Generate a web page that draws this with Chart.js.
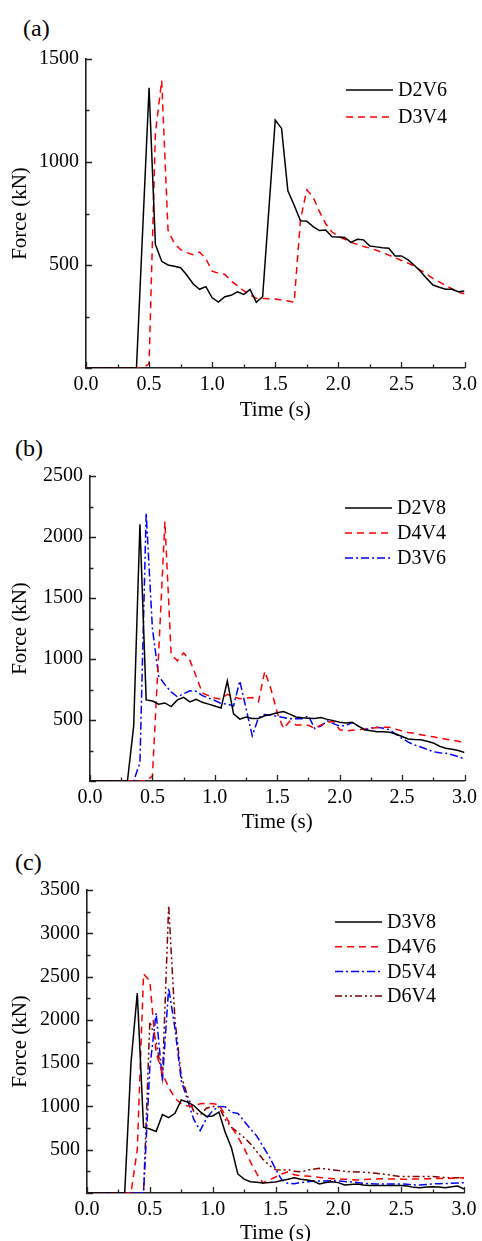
<!DOCTYPE html>
<html>
<head>
<meta charset="utf-8">
<script src="https://cdn.jsdelivr.net/npm/chart.js@4.4.1/dist/chart.umd.min.js"></script>
<style>
    html, body { margin: 0; padding: 0; background: #fff; overflow: hidden; }
    body { width: 482px; height: 1241px; position: relative; }
    canvas { position: absolute; left: 0; }
    .tag {
        position: absolute;
        font-family: 'Liberation Serif', 'Times New Roman', serif;
        font-size: 24px;
        line-height: 24px;
        color: #000;
    }
</style>
</head>
<body>
<div class="tag" style="left:23px; top:16px">(a)</div>
<div class="tag" style="left:15px; top:436px">(b)</div>
<div class="tag" style="left:15px; top:850px">(c)</div>
<canvas id="chartA" width="482" height="423" style="top:0px"></canvas>
<canvas id="chartB" width="482" height="412" style="top:423px"></canvas>
<canvas id="chartC" width="482" height="411" style="top:835px"></canvas>
<script>
// sampling times (s), shared by every series
const time = [
    0.00, 0.05, 0.10, 0.15, 0.20, 0.25, 0.30, 0.35, 0.40, 0.45,
    0.50, 0.55, 0.60, 0.65, 0.70, 0.75, 0.80, 0.85, 0.90, 0.95,
    1.00, 1.05, 1.10, 1.15, 1.20, 1.25, 1.30, 1.35, 1.40, 1.45,
    1.50, 1.55, 1.60, 1.65, 1.70, 1.75, 1.80, 1.85, 1.90, 1.95,
    2.00, 2.05, 2.10, 2.15, 2.20, 2.25, 2.30, 2.35, 2.40, 2.45,
    2.50, 2.55, 2.60, 2.65, 2.70, 2.75, 2.80, 2.85, 2.90, 2.95,
    3.00
];
const xTickLabels = ['0.0', '0.5', '1.0', '1.5', '2.0', '2.5', '3.0'];

// (a)
const forceD2V6 = [
    0, 0, 0, 0, 0, 0, 0, 0, 0, 680,
    1360, 600, 518, 500, 494, 487, 450, 408, 382, 395,
    341, 320, 346, 353, 370, 357, 382, 319, 346, 775,
    1204, 1163, 860, 790, 715, 713, 686, 667, 670, 637,
    636, 634, 610, 625, 622, 592, 588, 584, 581, 544,
    544, 526, 500, 470, 435, 403, 392, 382, 382, 370,
    374
];
const forceD3V4 = [
    0, 0, 0, 0, 0, 0, 0, 0, 0, 0,
    20, 1140, 1395, 670, 605, 575, 560, 550, 563, 530,
    470, 460, 455, 422, 400, 375, 355, 338, 337, 336,
    335, 330, 325, 320, 720, 865, 830, 760, 700, 660,
    640, 625, 610, 600, 590, 582, 572, 560, 548, 535,
    522, 510, 495, 475, 455, 435, 418, 400, 385, 368,
    360
];

// (b)
const forceD2V8 = [
    0, 0, 0, 0, 0, 0, 0, 452, 2105, 665,
    655, 630, 640, 610, 665, 686, 648, 670, 645, 630,
    615, 598, 820, 550, 507, 525, 512, 512, 535, 545,
    560, 570, 548, 525, 518, 515, 512, 520, 505, 495,
    482, 475, 482, 450, 420, 412, 403, 403, 400, 385,
    365, 345, 340, 338, 325, 312, 285, 268, 260, 250,
    234
];
const forceD4V4 = [
    0, 0, 0, 0, 0, 0, 0, 0, 0, 0,
    40, 1050, 2127, 1040, 985, 1050, 990, 860, 720, 700,
    680, 670, 711, 690, 675, 680, 684, 650, 900, 752,
    560, 430, 490, 460, 460, 457, 430, 460, 480, 490,
    420, 411, 415, 420, 425, 432, 439, 440, 440, 425,
    410, 398, 390, 380, 370, 362, 352, 343, 335, 325,
    316
];
const forceD3V6 = [
    0, 0, 0, 0, 0, 0, 0, 0, 150, 2195,
    1250, 860, 790, 730, 690, 715, 740, 735, 700, 680,
    660, 635, 630, 615, 820, 595, 370, 520, 545, 540,
    530, 520, 510, 510, 510, 534, 430, 450, 493, 470,
    450, 455, 479, 450, 420, 435, 440, 432, 420, 384,
    350, 318, 295, 278, 260, 240, 232, 228, 215, 200,
    180
];

// (c)
const forceD3V8 = [
    0, 0, 0, 0, 0, 0, 0, 1500, 2310, 760,
    740, 710, 905, 870, 920, 1075, 1050, 1010, 940, 885,
    890, 935, 700, 520, 220, 160, 131, 125, 115, 120,
    128, 145, 160, 177, 160, 150, 139, 104, 120, 130,
    120, 92, 98, 104, 92, 88, 88, 88, 88, 88,
    88, 80, 65, 62, 70, 73, 68, 62, 72, 81,
    46
];
const forceD4V6 = [
    0, 0, 0, 0, 0, 0, 0, 0, 500, 2530,
    2450, 1620, 1380, 1220, 1095, 1030, 1005, 1005, 1030, 1036,
    1030, 1020, 900, 760, 650, 520, 360, 227, 115, 150,
    185, 220, 246, 210, 200, 195, 188, 180, 172, 165,
    162, 160, 155, 150, 155, 160, 163, 165, 163, 162,
    160, 160, 162, 163, 165, 165, 168, 168, 170, 172,
    175
];
const forceD5V4 = [
    0, 0, 0, 0, 0, 0, 0, 0, 0, 0,
    1450, 2080, 1300, 2370, 1900, 1300, 1070, 850, 720, 860,
    950, 1000, 995, 930, 920, 830, 740, 660, 540, 420,
    280, 150, 110, 108, 120, 130, 135, 139, 140, 142,
    138, 133, 128, 120, 112, 108, 105, 104, 104, 104,
    104, 100, 94, 92, 98, 104, 108, 110, 112, 115,
    119
];
const forceD6V4 = [
    0, 0, 0, 0, 0, 0, 0, 0, 0, 0,
    1980, 1750, 1330, 3320, 2000, 1350, 1120, 940, 900, 980,
    1000, 995, 850, 760, 700, 640, 570, 480, 390, 320,
    270, 265, 270, 250, 245, 262, 275, 285, 278, 268,
    260, 250, 246, 243, 240, 235, 228, 220, 210, 198,
    190, 190, 190, 190, 190, 190, 185, 180, 175, 175,
    175
];

const FONT = "'Liberation Serif', 'Times New Roman', serif";

const STYLES = {
    solid: { color: '#000000', dash: [] },
    dash: { color: '#ff0000', dash: [7, 5] },
    dashDot: { color: '#0000ff', dash: [8, 3, 2, 3] },
    dashDotDot: { color: '#800000', dash: [7, 3, 2, 3, 2, 3] }
};

// inward major / minor tick marks, like the original plotting software
const innerTicks = {
    id: 'innerTicks',
    afterDraw(chart, args, opts) {
        const { ctx, chartArea: area, scales: { x, y } } = chart;
        ctx.save();
        ctx.strokeStyle = '#222';
        ctx.lineWidth = 1.3;
        ctx.beginPath();
        for (let v = x.min; v <= x.max + 1e-9; v += opts.xStep / 2) {
            const px = Math.round(x.getPixelForValue(v)) + 0.5;
            const major = Math.abs(v / opts.xStep - Math.round(v / opts.xStep)) < 1e-6;
            ctx.moveTo(px, area.bottom);
            ctx.lineTo(px, area.bottom - (major ? 6 : 3.5));
        }
        for (let v = y.min; v <= y.max + 1e-9; v += opts.yStep / 2) {
            const py = Math.round(y.getPixelForValue(v)) + 0.5;
            const major = Math.abs(v / opts.yStep - Math.round(v / opts.yStep)) < 1e-6;
            ctx.moveTo(area.left, py);
            ctx.lineTo(area.left + (major ? 6 : 3.5), py);
        }
        ctx.stroke();
        ctx.restore();
    }
};

// legend drawn as a plain column in the upper right of the plot
const sideLegend = {
    id: 'sideLegend',
    afterDraw(chart, args, opts) {
        const ctx = chart.ctx;
        chart.data.datasets.forEach((ds, i) => {
            const ly = opts.y + i * opts.gap;
            ctx.save();
            ctx.strokeStyle = ds.borderColor;
            ctx.lineWidth = ds.borderWidth;
            ctx.setLineDash(ds.borderDash);
            ctx.beginPath();
            ctx.moveTo(opts.x, ly);
            ctx.lineTo(opts.x + 47, ly);
            ctx.stroke();
            ctx.setLineDash([]);
            ctx.fillStyle = '#000';
            ctx.font = '20px ' + FONT;
            ctx.textBaseline = 'middle';
            ctx.fillText(ds.label, opts.x + 52, ly + 1);
            ctx.restore();
        });
    }
};

function makeDataset(label, values, style) {
    const s = STYLES[style];
    return {
        label: label,
        data: time.map((t, i) => ({ x: t, y: values[i] })),
        borderColor: s.color,
        borderDash: s.dash,
        borderWidth: 1.5,
        pointRadius: 0,
        tension: 0,
        fill: false
    };
}

function makePanel(canvasId, datasets, layout) {
    return new Chart(document.getElementById(canvasId), {
        type: 'line',
        data: { datasets: datasets },
        plugins: [innerTicks, sideLegend],
        options: {
            responsive: false,
            animation: false,
            devicePixelRatio: 1,
            layout: { padding: { top: layout.top, right: layout.right, left: 0, bottom: 0 } },
            plugins: {
                legend: { display: false },
                tooltip: { enabled: false },
                innerTicks: { xStep: 0.5, yStep: 500 },
                sideLegend: layout.legend
            },
            scales: {
                x: {
                    type: 'linear',
                    min: 0,
                    max: 3,
                    afterFit: scale => { scale.height = layout.xHeight; },
                    afterBuildTicks: scale => {
                        scale.ticks = xTickLabels.map(l => ({ value: parseFloat(l) }));
                    },
                    ticks: {
                        color: '#000',
                        font: { family: FONT, size: 20 },
                        padding: 5,
                        maxRotation: 0,
                        autoSkip: false,
                        callback: v => xTickLabels.find(l => parseFloat(l) === v)
                    },
                    grid: { display: false, drawTicks: false },
                    border: { display: true, color: '#222', width: 1.6 },
                    title: {
                        display: true,
                        text: 'Time (s)',
                        color: '#000',
                        font: { family: FONT, size: 21 },
                        padding: { top: 0, bottom: 0 }
                    }
                },
                y: {
                    type: 'linear',
                    min: 0,
                    max: layout.yMax,
                    afterFit: scale => { scale.width = layout.yWidth; },
                    ticks: {
                        stepSize: 500,
                        color: '#000',
                        font: { family: FONT, size: 20 },
                        padding: 7,
                        callback: v => (v === 0 ? '' : String(v))
                    },
                    grid: { display: false, drawTicks: false },
                    border: { display: true, color: '#222', width: 1.6 },
                    title: {
                        display: true,
                        text: 'Force (kN)',
                        color: '#000',
                        font: { family: FONT, size: 21 },
                        padding: { top: 8, bottom: 0 }
                    }
                }
            }
        }
    });
}

makePanel('chartA', [
    makeDataset('D2V6', forceD2V6, 'solid'),
    makeDataset('D3V4', forceD3V4, 'dash')
], {
    top: 59, right: 12, xHeight: 55, yWidth: 86, yMax: 1500,
    legend: { x: 346, y: 90, gap: 27 }
});

makePanel('chartB', [
    makeDataset('D2V8', forceD2V8, 'solid'),
    makeDataset('D4V4', forceD4V4, 'dash'),
    makeDataset('D3V6', forceD3V6, 'dashDot')
], {
    top: 53, right: 12, xHeight: 54, yWidth: 90, yMax: 2500,
    legend: { x: 345, y: 85, gap: 25 }
});

makePanel('chartC', [
    makeDataset('D3V8', forceD3V8, 'solid'),
    makeDataset('D4V6', forceD4V6, 'dash'),
    makeDataset('D5V4', forceD5V4, 'dashDot'),
    makeDataset('D6V4', forceD6V4, 'dashDotDot')
], {
    top: 55, right: 18, xHeight: 53, yWidth: 87, yMax: 3500,
    legend: { x: 335, y: 87, gap: 24.7 }
});
</script>
</body>
</html>
